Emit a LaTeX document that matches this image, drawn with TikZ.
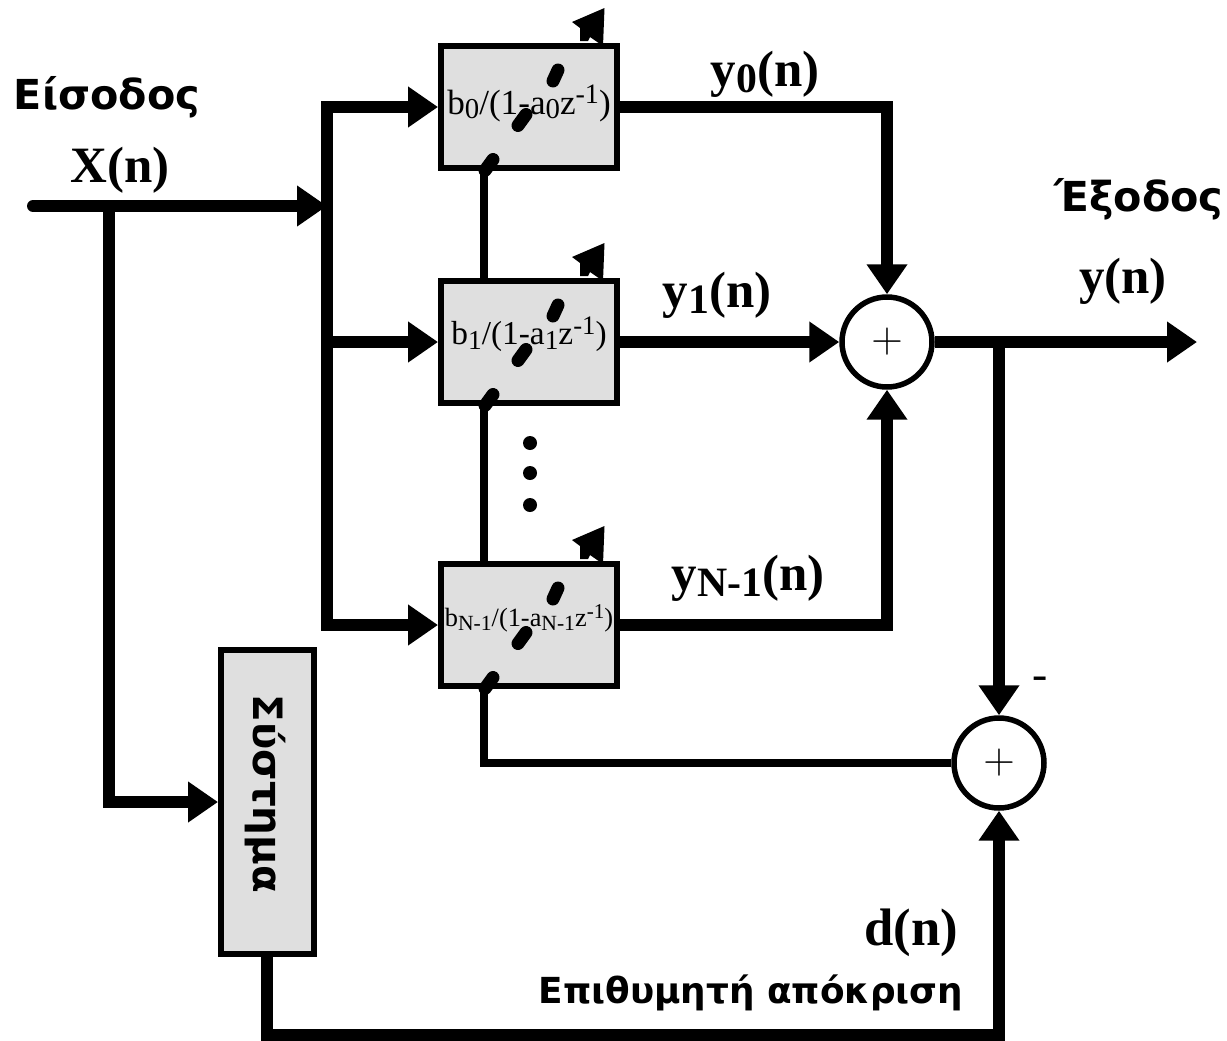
\documentclass[tikz,border=0pt]{standalone}
\usepackage{fontspec}
\setmainfont{Liberation Serif}
\newfontfamily\labelsans{DejaVu Sans}
\usepackage{tikz}
\usetikzlibrary{arrows.meta, positioning, calc}
\definecolor{boxgray}{HTML}{DFDFDF}

\newcommand{\lo}[1]{\raisebox{-.28ex}{\scalebox{.82}{#1}}}
\newcommand{\hi}[1]{\raisebox{.7ex}{\scalebox{.8}{#1}}}

\begin{document}
\begin{tikzpicture}[
  x=0.02cm, y=-0.02cm,
  filterbox/.style={draw, line width=0.12cm, fill=boxgray, minimum width=3.52cm, minimum height=2.46cm, inner sep=0pt, align=center, font=\fontsize{#1}{#1}\selectfont},
  sysbox/.style={draw, line width=0.12cm, fill=boxgray, minimum width=1.86cm, minimum height=6.08cm, inner sep=0pt},
  adder/.style={draw, circle, line width=0.11cm, fill=white, minimum size=1.8cm, inner sep=0pt, font=\fontsize{25}{25}\selectfont},
  signal/.style={line width=0.24cm},
  feed/.style={line width=0.15cm},
  tip/.style={signal, -{Triangle[length=0.6cm, width=0.78cm]}},
  blob/.style={line width=0.26cm, line cap=round},
  siglabel/.style={font=\fontsize{#1}{#1}\selectfont\bfseries, inner sep=0pt},
  greeklabel/.style={font=\labelsans\fontsize{#1}{#1}\selectfont\bfseries, inner sep=0pt}
]
\useasboundingbox (0,0) rectangle (1227,1041);

% Junctions and free ends
\coordinate (in) at (33,206);
\coordinate (tap) at (109,206);
\coordinate (bus) at (327,206);
\coordinate (bustop) at (327,107);
\coordinate (busmid) at (327,342);
\coordinate (busend) at (327,625);
\coordinate (sysin) at (109,802);
\coordinate (top) at (887,107);
\coordinate (low) at (887,625);
\coordinate (out) at (1197,342);
\coordinate (outtap) at (999,342);
\coordinate (feedturn) at (484,763);
\coordinate (d1) at (267,1035);
\coordinate (d2) at (999,1035);

% Blocks
\node[filterbox=20] (box0) at (529,107) {\raisebox{0.3cm}{b\lo{0}/(1-a\lo{0}z\hi{-1})}};
\node[filterbox=19] (box1) at (529,342) {\raisebox{0.45cm}{b\lo{1}/(1-a\lo{1}z\hi{-1})}};
\node[filterbox=15] (boxN) at (529,625) {\raisebox{0.38cm}{b\lo{N-1}/(1-a\lo{N-1}z\hi{-1})}};
\node[sysbox] (sys) at (267.5,802) {};
\node[rotate=-90, greeklabel=23] (systxt) at (265,794) {Σύστημα};
\node[adder] (add1) at (887,342) {$+$};
\node[adder] (add2) at (999,763) {$+$};

% Labels
\node[greeklabel=23.5] (insig) at (107,97) {Είσοδος};
\node[greeklabel=23.5] (outsig) at (1139,199) {Έξοδος};
\node[greeklabel=20.4] (want) at (751,993) {Επιθυμητή απόκριση};
\node[siglabel=29] (xn) at (120,170) {X(n)};
\node[siglabel=29] (y0) at (765,74) {y\lo{0}(n)};
\node[siglabel=29] (y1) at (717,295) {y\lo{1}(n)};
\node[siglabel=29] (yN) at (748,578) {y\lo{N-1}(n)};
\node[siglabel=29] (yn) at (1123,281) {y(n)};
\node[siglabel=30] (dn) at (911,933) {d(n)};
\node[font=\fontsize{26}{26}\selectfont, inner sep=0pt] (minus) at (1040,683) {-};

% Dots
\fill (530,443) circle (7) (530,473) circle (7) (530,505) circle (7);

% Input side
\draw[tip, line cap=round] (in) -- (bus);
\draw[signal, line cap=rect] (bustop) -- (busend);
\draw[tip] (bustop) -- (box0.west);
\draw[tip] (busmid) -- (box1.west);
\draw[tip] (busend) -- (boxN.west);
\draw[tip] (tap) -- (sysin) -- (sys.west);

% Output side
\draw[tip] (box0.east) -- (top) -- (add1.north);
\draw[tip] (box1.east) -- (add1.west);
\draw[tip] (boxN.east) -- (low) -- (add1.south);
\draw[tip] (add1.east) -- (out);
\draw[tip] (outtap) -- (add2.north);

% Error path
\draw[tip] (sys.south -| d1) -- (d1) -- (d2) -- (add2.south);
\draw[feed] (add2.west) -- (feedturn) -- (feedturn |- boxN.south);
\draw[feed] (feedturn |- boxN.north) -- (feedturn |- box1.south);
\draw[feed] (feedturn |- box1.north) -- (feedturn |- box0.south);

% Marks on each block
\foreach \name in {box0,box1,boxN} {
  \begin{scope}[shift={(\name.center)}]
    \draw[blob] (29,-37) -- (24,-26);
    \draw[blob] (-3,7.5) -- (-11,18.5);
    \draw[blob] (-36,52.5) -- (-44,63.5);
    \fill (43,-85) -- (75.5,-99) -- (74,-61) -- (61,-70) -- (59,-66) -- (51,-66) -- (51,-79) -- cycle;
  \end{scope}
}
\end{tikzpicture}
\end{document}
